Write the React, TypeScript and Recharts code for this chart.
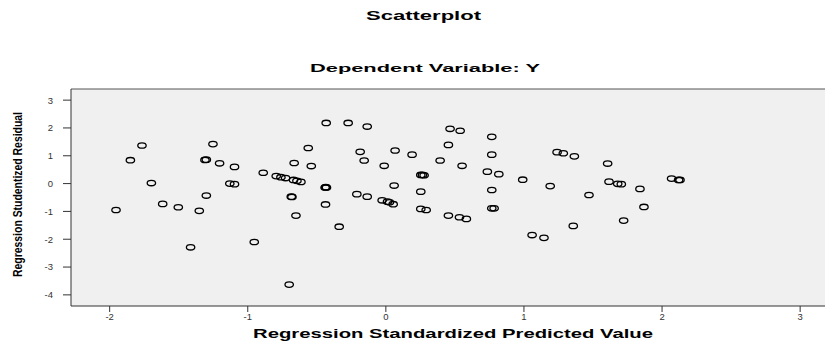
import { ScatterChart, Scatter, XAxis, YAxis, CartesianGrid, ReferenceLine } from 'recharts';

// regression standardized predicted value (x) and studentized residual (y)
const predicted = [
  -1.954, -1.85, -1.766, -1.698, -1.616, -1.503, -1.414, -1.351, -1.31, -1.30,
  -1.252, -1.30, -1.204, -1.096, -1.13, -1.096, -0.953, -0.888, -0.794, -0.76,
  -0.726, -0.669, -0.644, -0.615, -0.664, -0.54, -0.44, -0.43, -0.435, -0.685,
  -0.68, -0.437, -0.651, -0.21, -0.135, -0.432, -0.273, -0.135, 0.465, 0.538,
  0.767, -0.562, 0.453, -0.186, 0.067, 0.19, 0.767, -0.157, -0.012, 0.393,
  0.552, 0.253, 0.265, 0.277, 0.735, 0.818, 0.991, 1.19, 0.06, 0.253,
  0.767, -0.027, 0.012, 0.026, 0.053, 0.253, 0.292, 0.453, 0.533, 0.583,
  0.767, 0.784, -0.338, 1.059, 1.145, -0.7, 1.24, 1.285, 1.365, 1.606,
  1.616, 1.679, 1.705, 1.84, 1.471, 1.869, 1.722, 1.357, 2.069, 2.12,
  2.13,
];

const residual = [
  -0.95, 0.84, 1.37, 0.02, -0.73, -0.85, -2.29, -0.98, 0.85, 0.86,
  1.42, -0.43, 0.73, 0.6, 0.0, -0.02, -2.1, 0.39, 0.27, 0.23,
  0.2, 0.13, 0.1, 0.06, 0.74, 0.63, -0.14, -0.14, -0.13, -0.47,
  -0.48, -0.75, -1.15, -0.38, -0.47, 2.18, 2.18, 2.05, 1.97, 1.9,
  1.68, 1.28, 1.39, 1.14, 1.19, 1.04, 1.04, 0.83, 0.64, 0.83,
  0.64, 0.31, 0.31, 0.3, 0.43, 0.34, 0.14, -0.09, -0.07, -0.29,
  -0.23, -0.6, -0.65, -0.67, -0.74, -0.91, -0.95, -1.15, -1.21, -1.27,
  -0.89, -0.89, -1.55, -1.85, -1.95, -3.63, 1.13, 1.09, 0.98, 0.72,
  0.07, -0.01, -0.02, -0.19, -0.41, -0.84, -1.33, -1.52, 0.18, 0.13,
  0.13,
];

const xTicks = [-2, -1, 0, 1, 2, 3];
const yTicks = [-4, -3, -2, -1, 0, 1, 2, 3];

const points = predicted.map((x, i) => ({ x, y: residual[i] }));

const font = '"Liberation Sans", Arial, sans-serif';

function OpenCircle(props: any) {
  const { cx, cy } = props;
  if (cx == null || cy == null) return null;
  return <ellipse cx={cx} cy={cy} rx={4.2} ry={2.7} fill="none" stroke="#000" strokeWidth={1.3} />;
}

export default function App() {
  return (
    <div style={{ position: 'absolute', left: 0, top: 0, width: 825, height: 341, background: '#fff' }}>
      <ScatterChart width={825} height={341} margin={{ top: 89, right: 0, bottom: 0, left: 0 }}>
        <CartesianGrid fill="#f0f0f0" stroke="none" horizontal={false} vertical={false} />
        <XAxis
          type="number"
          dataKey="x"
          domain={[-2.28, 3.18]}
          ticks={xTicks}
          allowDataOverflow
          height={35}
          tickSize={6}
          tickMargin={1}
          axisLine={{ stroke: '#333' }}
          tickLine={{ stroke: '#333' }}
          tick={{ fontSize: 9.5, fill: '#333', fontFamily: font }}
        />
        <YAxis
          type="number"
          dataKey="y"
          domain={[-4.4, 3.4]}
          ticks={yTicks}
          allowDataOverflow
          width={71}
          tickSize={8}
          tickMargin={10}
          axisLine={{ stroke: '#333' }}
          tickLine={{ stroke: '#333' }}
          tick={{ fontSize: 9.5, fill: '#333', fontFamily: font }}
        />
        <ReferenceLine y={3.4} stroke="#555" />
        <Scatter data={points} shape={OpenCircle} isAnimationActive={false} />
      </ScatterChart>
      <svg
        width={825}
        height={341}
        style={{ position: 'absolute', left: 0, top: 0, pointerEvents: 'none' }}
        fontFamily={font}
        fontWeight="bold"
        fill="#000"
      >
        <text x={423.5} y={19.5} fontSize={12} textAnchor="middle" textLength={115} lengthAdjust="spacingAndGlyphs">
          Scatterplot
        </text>
        <text x={425} y={72} fontSize={11.5} textAnchor="middle" textLength={230} lengthAdjust="spacingAndGlyphs">
          Dependent Variable: Y
        </text>
        <text x={453} y={338} fontSize={13} textAnchor="middle" textLength={400} lengthAdjust="spacingAndGlyphs">
          Regression Standardized Predicted Value
        </text>
        <text
          transform="translate(22, 194.5) rotate(-90)"
          fontSize={12.5}
          textAnchor="middle"
          textLength={165}
          lengthAdjust="spacingAndGlyphs"
        >
          Regression Studentized Residual
        </text>
      </svg>
    </div>
  );
}
